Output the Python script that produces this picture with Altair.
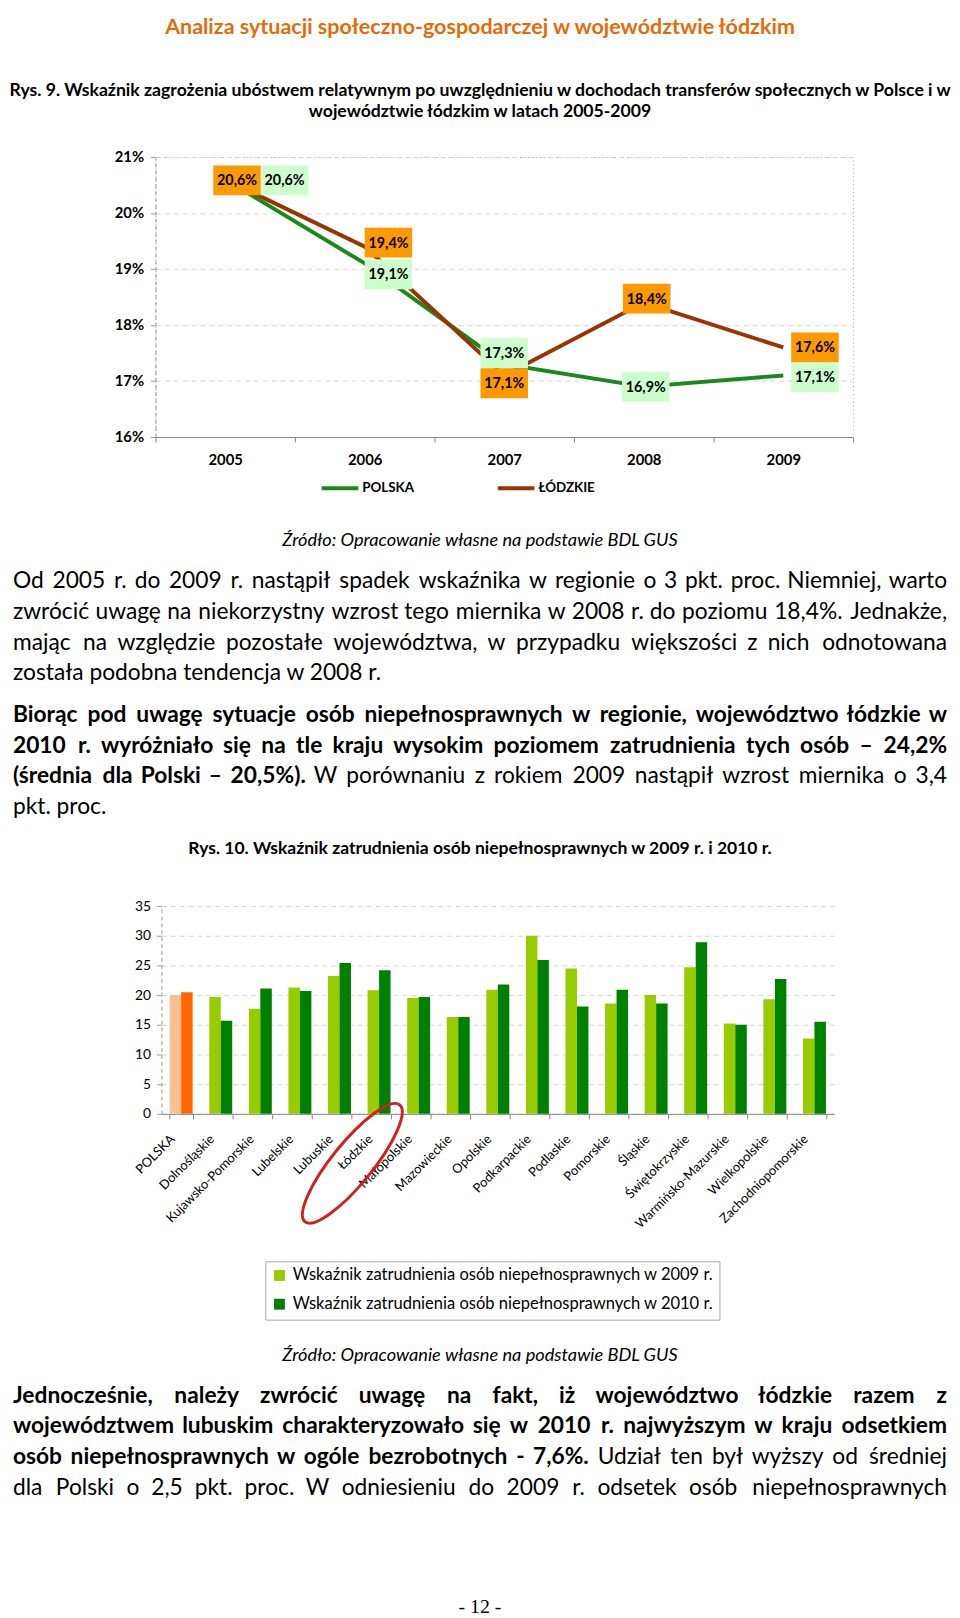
import altair as alt
import pandas as pd

# ---------------- data ----------------
YEARS = ["2005", "2006", "2007", "2008", "2009"]
POLSKA_RATE = [20.6, 19.1, 17.3, 16.9, 17.1]
LODZKIE_RATE = [20.6, 19.4, 17.1, 18.4, 17.6]
SERIES = ["POLSKA", "ŁÓDZKIE"]
RATE_TICKS = [16, 17, 18, 19, 20, 21]

REGIONS = ["POLSKA", "Dolnośląskie", "Kujawsko-Pomorskie", "Lubelskie", "Lubuskie",
           "Łódzkie", "Małopolskie", "Mazowieckie", "Opolskie", "Podkarpackie",
           "Podlaskie", "Pomorskie", "Śląskie", "Świętokrzyskie",
           "Warmińsko-Mazurskie", "Wielkopolskie", "Zachodniopomorskie"]
EMP_2009 = [20.0, 19.7, 17.7, 21.3, 23.2, 20.8, 19.5, 16.3, 20.9, 30.0,
            24.5, 18.6, 20.0, 24.7, 15.2, 19.3, 12.7]
EMP_2010 = [20.5, 15.7, 21.1, 20.7, 25.4, 24.2, 19.7, 16.3, 21.8, 25.9,
            18.1, 20.9, 18.6, 28.9, 15.0, 22.7, 15.5]
EMP_TICKS = [0, 5, 10, 15, 20, 25, 30, 35]
LEG_2009 = "Wskaźnik zatrudnienia osób niepełnosprawnych w 2009 r."
LEG_2010 = "Wskaźnik zatrudnienia osób niepełnosprawnych w 2010 r."
HIGHLIGHT = "Łódzkie"

HEADER = "Analiza sytuacji społeczno-gospodarczej w województwie łódzkim"
CAPTION9 = ["Rys. 9. Wskaźnik zagrożenia ubóstwem relatywnym po uwzględnieniu w dochodach transferów społecznych w Polsce i w",
            "województwie łódzkim w latach 2005-2009"]
CAPTION10 = "Rys. 10. Wskaźnik zatrudnienia osób niepełnosprawnych w 2009 r. i 2010 r."
SOURCE = "Źródło: Opracowanie własne na podstawie BDL GUS"
# each line: list of (text, bold) segments
PARA1 = [
    [("Od 2005 r. do 2009 r. nastąpił spadek wskaźnika w regionie o 3 pkt. proc. Niemniej, warto", False)],
    [("zwrócić uwagę na niekorzystny wzrost tego miernika w 2008 r. do poziomu 18,4%. Jednakże,", False)],
    [("mając na względzie pozostałe województwa, w przypadku większości z nich odnotowana", False)],
    [("została podobna tendencja w 2008 r.", False)],
]
PARA2 = [
    [("Biorąc pod uwagę sytuacje osób niepełnosprawnych w regionie, województwo łódzkie w", True)],
    [("2010 r. wyróżniało się na tle kraju wysokim poziomem zatrudnienia tych osób – 24,2%", True)],
    [("(średnia dla Polski – 20,5%).", True), ("W porównaniu z rokiem 2009 nastąpił wzrost miernika o 3,4", False)],
    [("pkt. proc.", False)],
]
PARA3 = [
    [("Jednocześnie, należy zwrócić uwagę na fakt, iż województwo łódzkie razem z", True)],
    [("województwem lubuskim charakteryzowało się w 2010 r. najwyższym w kraju odsetkiem", True)],
    [("osób niepełnosprawnych w ogóle bezrobotnych - 7,6%.", True), ("Udział ten był wyższy od średniej", False)],
    [("dla Polski o 2,5 pkt. proc. W odniesieniu do 2009 r. odsetek osób niepełnosprawnych", False)],
]
PAGE_NO = "- 12 -"

# ---------------- styling ----------------
FONT = "Lato"
W = 944          # text column width
COL1 = 144       # left column (where the charts' plot areas start)
BODY = 23
LINE = 31
ONE = pd.DataFrame({"k": [0]})
NOSTROKE = alt.ViewBackground(stroke="transparent")
BORDER = alt.ViewBackground(stroke="#a6a6a6", strokeDash=[1, 3])

# rough advance widths (em) of the body font, used only to justify lines
CW = {" ": 0.193, ".": 0.22, ",": 0.22, "%": 0.76, "–": 0.58, "-": 0.34, "(": 0.30, ")": 0.30,
      "a": 0.51, "b": 0.555, "c": 0.46, "d": 0.555, "e": 0.52, "f": 0.32, "g": 0.50, "h": 0.555,
      "i": 0.24, "j": 0.24, "k": 0.50, "l": 0.24, "m": 0.835, "n": 0.555, "o": 0.555, "p": 0.555,
      "r": 0.365, "s": 0.425, "t": 0.345, "u": 0.555, "w": 0.75, "y": 0.50, "z": 0.44,
      "ą": 0.51, "ć": 0.46, "ę": 0.52, "ł": 0.27, "ń": 0.555, "ó": 0.555, "ś": 0.425,
      "ź": 0.44, "ż": 0.44, "B": 0.63, "J": 0.40, "O": 0.78, "P": 0.59, "U": 0.71, "W": 0.97}


def est_width(word, size):
    return sum(CW.get(c, 0.58 if c.isdigit() else 0.56) for c in word) * size * 1.03


def txt(s, x, y, size, bold=False, italic=False, align="left", color="#000000", font=FONT):
    return alt.Chart(ONE).mark_text(
        text=s, align=align, baseline="middle", fontSize=size,
        fontWeight="bold" if bold else "normal",
        fontStyle="italic" if italic else "normal",
        font=font, color=color,
    ).encode(x=alt.value(x), y=alt.value(y))


def paragraph(lines, y0, justify_last=False):
    """Word placement for justified text, drawn with a few text layers."""
    words = []
    for i, segs in enumerate(lines):
        y = y0 + i * LINE
        last = i == len(lines) - 1
        if last and not justify_last:
            for s, b in segs:
                words.append({"t": s, "x": 0, "y": y, "b": b, "a": "left"})
            continue
        toks = [(w, b) for s, b in segs for w in s.split(" ")]
        widths = [est_width(w, BODY) for w, _ in toks]
        gap = (W - sum(widths)) / (len(toks) - 1)
        cur = 0.0
        for j, ((w, b), wd) in enumerate(zip(toks, widths)):
            if j == 0:
                words.append({"t": w, "x": 0, "y": y, "b": b, "a": "left"})
            elif j == len(toks) - 1:
                words.append({"t": w, "x": W, "y": y, "b": b, "a": "right"})
            else:
                words.append({"t": w, "x": cur + wd / 2, "y": y, "b": b, "a": "center"})
            cur += wd + gap
    df = pd.DataFrame(words)
    out = []
    for (b, a), part in df.groupby(["b", "a"]):
        out.append(alt.Chart(part).mark_text(
            align=a, baseline="middle", fontSize=BODY, font=FONT,
            fontWeight="bold" if b else "normal", color="#000000",
        ).encode(x=alt.X("x:Q", scale=None, axis=None), y=alt.Y("y:Q", scale=None, axis=None),
                 text="t:N"))
    return out


def block(layers, h):
    # text spills to the right of the narrow cell (bounds are flush)
    return alt.layer(*layers).properties(width=COL1, height=h, view=NOSTROKE)


def spacer(w, h):
    return alt.Chart(ONE).mark_point(opacity=0, size=1).encode(
        x=alt.value(w / 2), y=alt.value(h / 2)).properties(width=w, height=h, view=NOSTROKE)


# ---------------- block 1: header & caption ----------------
H_TOP = 141
top = block([
    txt(HEADER, W / 2, 9.5, 21.7, bold=True, align="center", color="#e36c09"),
    txt(CAPTION9[0], W / 2, 74, 17.8, bold=True, align="center"),
    txt(CAPTION9[1], W / 2, 95.5, 17.8, bold=True, align="center"),
], H_TOP)

# ---------------- line chart ----------------
line_df = pd.DataFrame({
    "year": YEARS * 2,
    "series": [SERIES[0]] * len(YEARS) + [SERIES[1]] * len(YEARS),
    "value": POLSKA_RATE + LODZKIE_RATE,
})
line_df["label"] = line_df["value"].map(lambda v: f"{v:.1f}".replace(".", ",") + "%")

x_line = alt.X("year:O", title=None, bandPosition=0.5,
               scale=alt.Scale(type="band", domain=YEARS, paddingInner=0, paddingOuter=0),
               axis=alt.Axis(labelAngle=0, labelFont=FONT, labelFontSize=15, labelFontWeight="bold",
                             labelColor="#000", domainColor="#868686", tickColor="#868686",
                             tickSize=5, tickBand="extent", labelPadding=11, grid=False))
y_line = alt.Y("value:Q", title=None,
               scale=alt.Scale(domain=[16, 21], nice=False, zero=False),
               axis=alt.Axis(values=RATE_TICKS, labelExpr="datum.value + '%'", labelFont=FONT,
                             labelFontSize=15, labelFontWeight="bold", labelColor="#000",
                             domainColor="#9a9a9a", domainDash=[4, 3], tickColor="#9a9a9a",
                             tickSize=5, labelPadding=7, gridColor="#d4d4d4", gridDash=[5, 4]))

lines = alt.Chart(line_df).mark_line(strokeWidth=4).encode(
    x=x_line, y=y_line,
    color=alt.Color("series:N", scale=alt.Scale(domain=SERIES, range=["#178a17", "#993300"]),
                    legend=alt.Legend(orient="none", legendX=166, legendY=314, direction="horizontal",
                                      title=None, symbolType="stroke", symbolSize=1369,
                                      symbolStrokeWidth=4, labelFont=FONT, labelFontSize=13.5,
                                      labelFontWeight="bold", labelColor="#000", labelOffset=2,
                                      labelLimit=0, columnPadding=76, padding=0)),
)

RECT = "M-1,-0.63L1,-0.63L1,0.63L-1,0.63Z"
BOX_FILL = {"POLSKA": "#ccffcc", "ŁÓDZKIE": "#ff9900"}
# label placement (pixel offsets from the data point)
PLACE = {
    ("ŁÓDZKIE", "2005"): (12, 1), ("POLSKA", "2005"): (60, 1),
    ("ŁÓDZKIE", "2006"): (24, -4), ("POLSKA", "2006"): (24, 11),
    ("POLSKA", "2007"): (0, -11), ("ŁÓDZKIE", "2007"): (0, 8),
    ("ŁÓDZKIE", "2008"): (3, -4), ("POLSKA", "2008"): (2, 0),
    ("ŁÓDZKIE", "2009"): (32, 0), ("POLSKA", "2009"): (32, 2),
}
label_layers = []
for (s, yr), (dx, dy) in PLACE.items():
    base = alt.Chart(line_df).transform_filter((alt.datum.series == s) & (alt.datum.year == yr))
    label_layers.append(base.mark_point(shape=RECT, size=2304, filled=True, color=BOX_FILL[s],
                                        opacity=1, strokeWidth=0, xOffset=dx, yOffset=dy)
                        .encode(x=x_line, y=y_line))
    label_layers.append(base.mark_text(dx=dx, dy=dy + 1, fontSize=14.5, fontWeight="bold", font=FONT,
                                       color="#000", baseline="middle")
                        .encode(x=x_line, y=y_line, text="label:N"))

H_LINE = 283
line_chart = alt.layer(lines, *label_layers).properties(width=705, height=H_LINE, view=BORDER)

# ---------------- block 3: middle text ----------------
H_MID = 474
mid = block(
    [txt(SOURCE, W / 2, 104, 18.4, italic=True, align="center")]
    + paragraph(PARA1, 146)
    + paragraph(PARA2, 281)
    + [txt(CAPTION10, W / 2, 416, 17.7, bold=True, align="center")],
    H_MID,
)

# ---------------- bar chart ----------------
rows = []
for r, a, b in zip(REGIONS, EMP_2009, EMP_2010):
    rows.append({"region": r, "year": "2009", "value": a,
                 "key": "POLSKA 2009" if r == "POLSKA" else LEG_2009})
    rows.append({"region": r, "year": "2010", "value": b,
                 "key": "POLSKA 2010" if r == "POLSKA" else LEG_2010})
bar_df = pd.DataFrame(rows)

BAR_SHIFT = 6    # the bar chart's axis sits a little right of the line chart's
BAR_W = 680
X_BAR_AXIS = alt.Axis(labelAngle=-45, labelAlign="right", labelBaseline="middle",
                      labelFont=FONT, labelFontSize=13, labelColor="#000",
                      domainColor="#868686", tickColor="#868686", tickSize=5,
                      tickBand="extent", labelPadding=18, labelOffset=-9, grid=False)
Y_BAR_AXIS = alt.Axis(values=EMP_TICKS, labelFont=FONT, labelFontSize=14, labelColor="#000",
                      domainColor="#9a9a9a", domainDash=[4, 3], tickColor="#9a9a9a",
                      tickSize=5, labelPadding=6, gridColor="#d4d4d4", gridDash=[5, 4],
                      offset=-BAR_SHIFT)
X_BAR_SCALE = alt.Scale(domain=REGIONS, paddingInner=0.42, paddingOuter=0.21,
                        range=[BAR_SHIFT, BAR_SHIFT + BAR_W])
Y_BAR_SCALE = alt.Scale(domain=[0, 35], nice=False)

bars = alt.Chart(bar_df).mark_bar().encode(
    x=alt.X("region:N", title=None, scale=X_BAR_SCALE, axis=X_BAR_AXIS),
    y=alt.Y("value:Q", title=None, scale=Y_BAR_SCALE, axis=Y_BAR_AXIS),
    xOffset=alt.XOffset("year:N", scale=alt.Scale(paddingInner=0, paddingOuter=0)),
    color=alt.Color("key:N",
                    scale=alt.Scale(domain=[LEG_2009, LEG_2010, "POLSKA 2009", "POLSKA 2010"],
                                    range=["#99cc00", "#008000", "#fac090", "#ff6600"]),
                    legend=alt.Legend(orient="none", legendX=105 + BAR_SHIFT, legendY=359,
                                      values=[LEG_2009, LEG_2010],
                                      title=None, direction="vertical", symbolType="square",
                                      symbolSize=121, symbolStrokeWidth=0, labelFont=FONT,
                                      labelFontSize=16.7, labelColor="#000", labelOffset=5,
                                      labelLimit=0, rowPadding=11, padding=6, strokeColor="#a6a6a6",
                                      fillColor="#ffffff")),
)

ELLIPSE = ("M-1,0C-1,-0.149,-0.552,-0.27,0,-0.27C0.552,-0.27,1,-0.149,1,0"
           "C1,0.149,0.552,0.27,0,0.27C-0.552,0.27,-1,0.149,-1,0Z")
ring = (alt.Chart(bar_df)
        .transform_filter((alt.datum.region == HIGHLIGHT) & (alt.datum.year == "2009"))
        .transform_calculate(base="0")
        .mark_point(shape=ELLIPSE, size=23104, filled=False, color="#d21f1f",
                    strokeWidth=3, opacity=1, angle=309, xOffset=-27, yOffset=50)
        .encode(x=alt.X("region:N", title=None, scale=X_BAR_SCALE, axis=X_BAR_AXIS),
                y=alt.Y("base:Q", title=None, scale=Y_BAR_SCALE, axis=Y_BAR_AXIS)))

H_BAR = 210
bar_chart = alt.layer(bars, ring).properties(width=BAR_SHIFT + BAR_W, height=H_BAR, view=NOSTROKE)

# ---------------- block 5: bottom text ----------------
H_BOT = 490
bottom = block(
    [txt(SOURCE, W / 2, 244, 18.4, italic=True, align="center")]
    + paragraph(PARA3, 285, justify_last=True)
    + [txt(PAGE_NO, W / 2, 498, 20, font="Liberation Serif", align="center")],
    H_BOT,
)

cells = [
    top, spacer(1, H_TOP),
    spacer(COL1, H_LINE), line_chart,
    mid, spacer(1, H_MID),
    spacer(COL1, H_BAR), bar_chart,
    bottom, spacer(1, H_BOT),
]
chart = (alt.concat(*cells, columns=2, spacing=0, bounds="flush", align="none")
         .resolve_scale(color="independent")
         .properties(padding=0))
chart.save("out.html", embed_options={"renderer": "svg", "actions": False})
